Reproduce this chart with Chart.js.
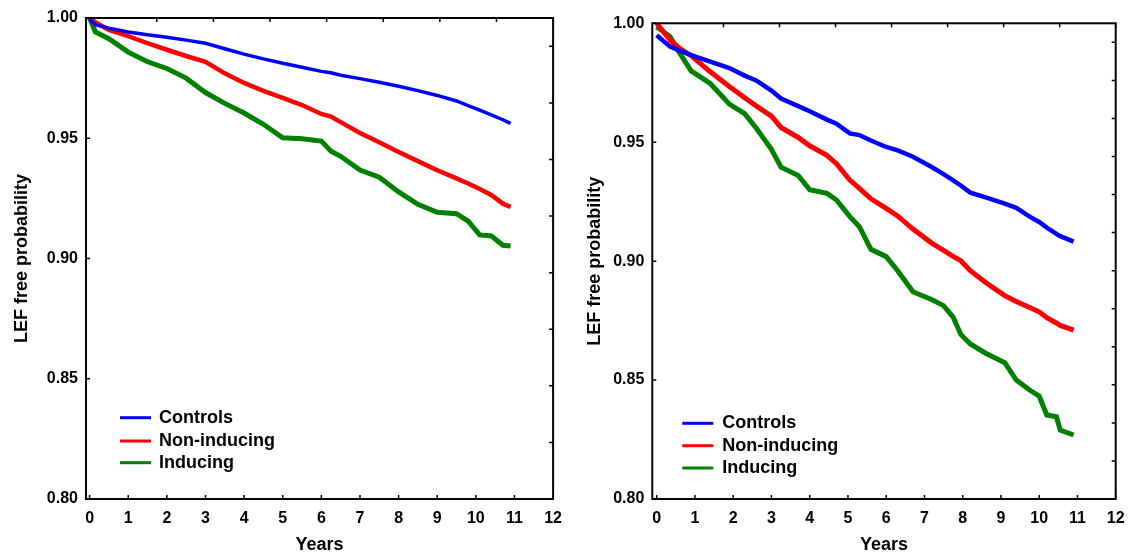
<!DOCTYPE html>
<html>
<head>
<meta charset="utf-8">
<script src="https://cdn.jsdelivr.net/npm/chart.js@4.4.1/dist/chart.umd.min.js"></script>
<style>
  html, body { margin: 0; padding: 0; background: #fff; }
  #wrap { position: relative; width: 1145px; height: 558px; }
  .panel { position: absolute; top: 0; height: 558px; }
  #left { left: 0; width: 572px; }
  #right { left: 572px; width: 573px; }
</style>
</head>
<body>
<div id="wrap">
  <div class="panel" id="left"><canvas id="leftCanvas" width="572" height="558"></canvas></div>
  <div class="panel" id="right"><canvas id="rightCanvas" width="573" height="558"></canvas></div>
</div>
<script>
// series names + colours (same in both panels)
var seriesLabels = ['Controls', 'Non-inducing', 'Inducing'];
var seriesColors = ['#0000ff', '#ff0000', '#008000'];

var xTickValues = [0, 1, 2, 3, 4, 5, 6, 7, 8, 9, 10, 11, 12];
var yTickValues = [0.80, 0.85, 0.90, 0.95, 1.00];

// left panel
var leftYears = [0, 0.15, 0.5, 1, 1.5, 2, 2.5, 3, 3.5, 4, 4.5, 5, 5.5, 6, 6.25, 6.5, 7, 7.5, 8, 8.5, 9, 9.5, 9.8, 10.1, 10.4, 10.7, 10.9];
var leftControls = [0.9995, 0.9972, 0.9958, 0.9942, 0.9930, 0.9920, 0.9908, 0.9895, 0.9872, 0.9850, 0.9830, 0.9812, 0.9795, 0.9778, 0.9772, 0.9762, 0.9748, 0.9733, 0.9716, 0.9698, 0.9678, 0.9655, 0.9636, 0.9617, 0.9597, 0.9577, 0.9562];
var leftNonInducing = [1.0, 0.9982, 0.9950, 0.9925, 0.9895, 0.9868, 0.9842, 0.9818, 0.9770, 0.9730, 0.9697, 0.9668, 0.9638, 0.9601, 0.9590, 0.9567, 0.9522, 0.9483, 0.9443, 0.9405, 0.9367, 0.9333, 0.9312, 0.9289, 0.9264, 0.9228, 0.9215];
var leftInducing = [1.0, 0.9942, 0.9914, 0.9858, 0.9818, 0.9790, 0.9750, 0.9690, 0.9645, 0.9605, 0.9558, 0.9502, 0.9498, 0.9488, 0.9446, 0.9425, 0.9368, 0.9338, 0.9277, 0.9225, 0.9192, 0.9186, 0.9155, 0.9098, 0.9094, 0.9055, 0.9052];

// right panel
var rightYears = [0, 0.35, 0.6, 0.9, 1.4, 1.9, 2.3, 2.6, 3.0, 3.25, 3.7, 4.0, 4.45, 4.7, 5.05, 5.3, 5.6, 6.0, 6.3, 6.7, 7.2, 7.5, 7.75, 7.95, 8.2, 8.6, 9.1, 9.4, 9.75, 10.0, 10.2, 10.45, 10.55, 10.9];
var rightControls = [0.9950, 0.9902, 0.9885, 0.9866, 0.9839, 0.9812, 0.9780, 0.9760, 0.9717, 0.9684, 0.9652, 0.9630, 0.9595, 0.9578, 0.9537, 0.9530, 0.9507, 0.9480, 0.9466, 0.9439, 0.9395, 0.9366, 0.9340, 0.9318, 0.9288, 0.9268, 0.9242, 0.9224, 0.9187, 0.9165, 0.9141, 0.9115, 0.9105, 0.9082];
var rightNonInducing = [1.0, 0.9930, 0.9895, 0.9864, 0.9796, 0.9734, 0.9687, 0.9653, 0.9610, 0.9562, 0.9520, 0.9485, 0.9445, 0.9410, 0.9341, 0.9306, 0.9262, 0.9222, 0.9190, 0.9135, 0.9075, 0.9045, 0.9020, 0.9002, 0.8960, 0.8910, 0.8855, 0.8830, 0.8805, 0.8787, 0.8762, 0.8740, 0.8730, 0.8710];
var rightInducing = [0.9986, 0.9944, 0.9875, 0.9800, 0.9747, 0.9660, 0.9620, 0.9560, 0.9470, 0.9395, 0.9360, 0.9300, 0.9285, 0.9257, 0.9187, 0.9145, 0.9050, 0.9019, 0.8960, 0.8871, 0.8838, 0.8813, 0.8765, 0.8692, 0.8652, 0.8613, 0.8573, 0.8500, 0.8458, 0.8432, 0.8353, 0.8346, 0.8290, 0.8269];

Chart.defaults.font.family = '"Liberation Sans", Arial, sans-serif';
Chart.defaults.color = '#000';

function toPoints(xs, ys) {
    return xs.map(function(x, i) { return {x: x, y: ys[i]}; });
}

// frame, inward tick marks and the legend inside the plot
var framePlugin = {
    id: 'frame',
    afterDatasetsDraw: function(chart, args, opts) {
        var ctx = chart.ctx, a = chart.chartArea, s = chart.scales;
        var len = 4;
        ctx.save();
        ctx.strokeStyle = '#000';
        ctx.lineWidth = 1.5;
        ctx.beginPath();
        s.x.ticks.forEach(function(t) {
            var px = s.x.getPixelForValue(t.value);
            ctx.moveTo(px, a.bottom); ctx.lineTo(px, a.bottom - len);
        });
        s.y.ticks.forEach(function(t) {
            var py = s.y.getPixelForValue(t.value);
            ctx.moveTo(a.left, py); ctx.lineTo(a.left + len, py);
        });
        s.x2.ticks.forEach(function(t) {
            if (!Number.isInteger(t.value)) return;
            var px = s.x2.getPixelForValue(t.value);
            ctx.moveTo(px, a.top); ctx.lineTo(px, a.top + len);
        });
        s.y2.ticks.forEach(function(t) {
            if (!Number.isInteger(t.value)) return;
            var py = s.y2.getPixelForValue(t.value);
            ctx.moveTo(a.right, py); ctx.lineTo(a.right - len, py);
        });
        ctx.stroke();
        ctx.lineWidth = 2;
        ctx.strokeRect(a.left, a.top, a.right - a.left, a.bottom - a.top);

        // legend
        ctx.font = 'bold 18px "Liberation Sans", Arial, sans-serif';
        ctx.textBaseline = 'middle';
        ctx.textAlign = 'left';
        ctx.lineWidth = 3;
        chart.data.datasets.forEach(function(ds, i) {
            var y = a.bottom + opts.rows[i];
            var x0 = a.left + opts.lineX;
            ctx.strokeStyle = ds.borderColor;
            ctx.beginPath();
            ctx.moveTo(x0, y); ctx.lineTo(x0 + opts.lineLen, y);
            ctx.stroke();
            ctx.fillStyle = '#000';
            ctx.fillText(ds.label, x0 + opts.lineLen + opts.gap, y);
        });
        ctx.restore();
    }
};

function makeChart(id, years, values, widths, cfg) {
    var datasets = values.map(function(v, i) {
        return {
            label: seriesLabels[i],
            data: toPoints(years, v),
            borderColor: seriesColors[i],
            backgroundColor: seriesColors[i],
            borderWidth: widths[i],
            pointRadius: 0,
            tension: 0,
            fill: false
        };
    });
    return new Chart(document.getElementById(id).getContext('2d'), {
        type: 'line',
        data: {datasets: datasets},
        plugins: [framePlugin],
        options: {
            responsive: false,
            animation: false,
            layout: {padding: {top: cfg.top, right: cfg.right, left: 0, bottom: 0}},
            plugins: {
                legend: {display: false},
                tooltip: {enabled: false},
                frame: cfg.legend
            },
            scales: {
                x: {
                    type: 'linear',
                    position: 'bottom',
                    min: cfg.xMin,
                    max: 12,
                    afterBuildTicks: function(sc) { sc.ticks = xTickValues.map(function(v) { return {value: v}; }); },
                    afterFit: function(sc) { sc.height = 59; },
                    grid: {display: false, drawTicks: false},
                    border: {display: false},
                    ticks: {padding: 10, font: {size: 16, weight: 'bold'}, maxRotation: 0, autoSkip: false},
                    title: {display: true, text: 'Years', font: {size: 18, weight: 'bold'}, padding: {top: 0, bottom: 2}}
                },
                y: {
                    type: 'linear',
                    position: 'left',
                    min: 0.8,
                    max: 1.0,
                    afterBuildTicks: function(sc) { sc.ticks = yTickValues.map(function(v) { return {value: v}; }); },
                    afterFit: function(sc) { sc.width = cfg.yWidth; },
                    grid: {display: false, drawTicks: false},
                    border: {display: false},
                    ticks: {
                        padding: 8,
                        font: {size: 16, weight: 'bold'},
                        callback: function(v) { return Number(v).toFixed(2); }
                    },
                    title: {display: true, text: 'LEF free probability', font: {size: 18, weight: 'bold'}, padding: {top: cfg.titlePad, bottom: 0}}
                },
                // unlabeled tick-only axes on the top and right frame
                x2: {type: 'linear', position: 'top', display: false, min: cfg.x2Min, max: 8, ticks: {stepSize: 1}},
                y2: {type: 'linear', position: 'right', display: false, min: 0, max: cfg.y2Max, ticks: {stepSize: 1}}
            }
        }
    });
}

makeChart('leftCanvas', leftYears, [leftControls, leftNonInducing, leftInducing], [3.5, 4.5, 5], {
    top: 18, right: 18.7, yWidth: 86, titlePad: 11, xMin: -0.093, x2Min: -0.25, y2Max: 8.5,
    legend: {lineX: 34, lineLen: 31, gap: 8, rows: [-81.3, -58, -36.3]}
});
makeChart('rightCanvas', rightYears, [rightControls, rightNonInducing, rightInducing], [4.5, 5, 5], {
    top: 23.3, right: 29.3, yWidth: 80.3, titlePad: 12, xMin: -0.115, x2Min: -0.27, y2Max: 12.5,
    legend: {lineX: 30, lineLen: 31, gap: 9, rows: [-75.7, -53.3, -31]}
});
</script>
</body>
</html>
